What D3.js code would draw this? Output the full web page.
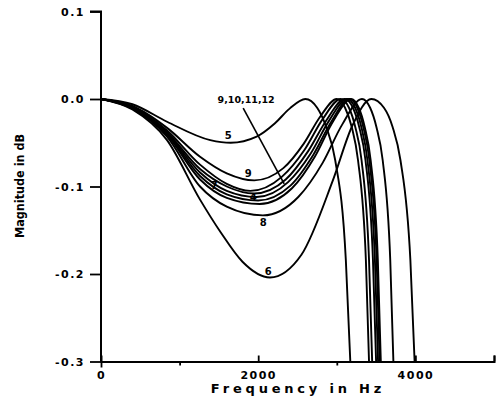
<!DOCTYPE html>
<html>
<head>
<meta charset="utf-8">
<script src="https://cdn.jsdelivr.net/npm/d3@7"></script>
<style>
  body { margin: 0; background: #fff; }
  svg text { font-family: "DejaVu Sans", sans-serif; font-weight: bold; fill: #000; }
</style>
</head>
<body>
<svg width="502" height="397"></svg>
<script>
// curves: [frequency Hz, magnitude dB]
const curve4 = [[0,0],[400,-0.01],[840,-0.041],[1260,-0.092],[1600,-0.113],[2020,-0.12],[2430,-0.102],[2720,-0.066],[2950,-0.026],[3180,0],[3279,-0.01],[3355,-0.032],[3431,-0.07],[3522,-0.184],[3560,-0.3]];
const curve5 = [[0,0],[400,-0.006],[840,-0.026],[1390,-0.047],[1650,-0.05],[1980,-0.043],[2210,-0.028],[2400,-0.011],[2600,0],[2750,-0.01],[2865,-0.032],[2980,-0.07],[3115,-0.184],[3172,-0.3]];
const curve6 = [[0,0],[400,-0.012],[840,-0.047],[1260,-0.115],[1520,-0.152],[1800,-0.186],[2150,-0.204],[2550,-0.178],[2950,-0.093],[3200,-0.03],[3440,0],[3600,-0.01],[3710,-0.032],[3810,-0.07],[3936,-0.184],[3990,-0.3]];
const curve7 = [[0,0],[400,-0.009],[840,-0.036],[1260,-0.075],[1600,-0.097],[1900,-0.105],[2300,-0.089],[2590,-0.058],[2820,-0.023],[3050,0],[3155,-0.01],[3235,-0.032],[3315,-0.07],[3410,-0.184],[3450,-0.3]];
const curve8 = [[0,0],[400,-0.011],[840,-0.043],[1260,-0.1],[1600,-0.123],[2060,-0.133],[2510,-0.112],[2820,-0.073],[3070,-0.029],[3320,0],[3424,-0.01],[3504,-0.032],[3584,-0.07],[3680,-0.184],[3720,-0.3]];
const curve9 = [[0,0],[400,-0.008],[840,-0.033],[1260,-0.066],[1600,-0.085],[1950,-0.093],[2320,-0.079],[2580,-0.051],[2790,-0.02],[3000,0],[3105,-0.01],[3190,-0.032],[3270,-0.07],[3370,-0.184],[3410,-0.3]];
const curve10 = [[0,0],[400,-0.009],[840,-0.038],[1260,-0.08],[1600,-0.1],[1950,-0.108],[2350,-0.092],[2640,-0.059],[2870,-0.024],[3100,0],[3205,-0.01],[3285,-0.032],[3365,-0.07],[3460,-0.184],[3500,-0.3]];
const curve11 = [[0,0],[400,-0.01],[840,-0.039],[1260,-0.084],[1600,-0.105],[1980,-0.112],[2380,-0.095],[2670,-0.062],[2900,-0.025],[3130,0],[3233,-0.01],[3312,-0.032],[3390,-0.07],[3485,-0.184],[3525,-0.3]];
const curve12 = [[0,0],[400,-0.01],[840,-0.04],[1260,-0.088],[1600,-0.109],[2000,-0.116],[2410,-0.099],[2700,-0.064],[2930,-0.026],[3160,0],[3260,-0.01],[3337,-0.032],[3414,-0.07],[3507,-0.184],[3545,-0.3]];

const curves = [curve4, curve5, curve6, curve7, curve8, curve9, curve10, curve11, curve12];

// curve labels at [Hz, dB]
const labelText = ['5', '9', '7', '4', '8', '6'];
const labelSpot = [[1618,-0.042],[1873,-0.085],[1440,-0.099],[1936,-0.112],[2064,-0.141],[2127,-0.197]];
const groupLabel = '9,10,11,12';
const groupSpot = [1847, 0.0];
const leader = [[1809,-0.0103],[2331,-0.097]];

const yTicks = [-0.3, -0.2, -0.1, 0, 0.1];
const xMajor = [0, 2000, 4000];
const xMinor = [1000, 3000];

const svg = d3.select('svg');
const x = d3.scaleLinear().domain([0, 5000]).range([101, 494]);
const y = d3.scaleLinear().domain([-0.3, 0.1]).range([361.5, 11.5]);

const line = d3.line().x(d => x(d[0])).y(d => y(d[1])).curve(d3.curveMonotoneX);

svg.append('g').selectAll('path')
  .data(curves).enter().append('path')
  .attr('d', line)
  .attr('fill', 'none').attr('stroke', '#000').attr('stroke-width', 1.9);

// leader line for the grouped label
svg.append('path').attr('d', d3.line().x(d => x(d[0])).y(d => y(d[1]))(leader))
  .attr('stroke', '#000').attr('stroke-width', 1.6);

svg.append('g').selectAll('text')
  .data(labelText).enter().append('text')
  .attr('x', (d, i) => x(labelSpot[i][0])).attr('y', (d, i) => y(labelSpot[i][1]))
  .attr('text-anchor', 'middle').attr('dominant-baseline', 'central')
  .attr('font-size', 10)
  .text(d => d);

svg.append('text')
  .attr('x', x(groupSpot[0])).attr('y', y(groupSpot[1]))
  .attr('text-anchor', 'middle').attr('dominant-baseline', 'central')
  .attr('font-size', 9.5)
  .text(groupLabel);

// axes
const fmt = d => (d < 0 ? '-' : '') + Math.abs(d).toFixed(1);
const yAxis = svg.append('g').attr('transform', 'translate(101,0)')
  .call(d3.axisLeft(y).tickValues(yTicks).tickSize(11).tickPadding(5).tickFormat(fmt));

const xAxis = svg.append('g').attr('transform', 'translate(0,361.5)')
  .call(d3.axisBottom(x).tickValues(xMajor).tickSize(-6).tickPadding(16).tickFormat(d3.format('d')));
xAxis.select('.tick line').attr('y2', 6);

svg.append('g').attr('transform', 'translate(0,361.5)')
  .call(d3.axisBottom(x).tickValues(xMinor).tickSize(4).tickFormat(''))
  .select('.domain').remove();
svg.append('g').attr('transform', 'translate(0,361.5)')
  .call(d3.axisBottom(x).tickValues([5000]).tickSize(-6).tickFormat(''))
  .select('.domain').remove();

svg.selectAll('.domain').attr('stroke-width', 2);
svg.selectAll('.tick line').attr('stroke-width', 1.8);
svg.selectAll('.tick text').attr('font-size', 11).attr('letter-spacing', 1.5)
  .attr('font-family', '"DejaVu Sans", sans-serif').attr('font-weight', 'bold');
yAxis.selectAll('.domain').attr('d', 'M-11,11.5H0V361.5');
xAxis.selectAll('.tick text').attr('dy', '0.1em');

svg.append('text')
  .attr('x', 298).attr('y', 393)
  .attr('text-anchor', 'middle').attr('font-size', 13).attr('letter-spacing', 3.8)
  .text('Frequency in Hz');

svg.append('text')
  .attr('transform', 'translate(24,186) rotate(-90)')
  .attr('text-anchor', 'middle').attr('font-size', 12.5)
  .style('font-family', '"Liberation Sans Narrow", "DejaVu Sans Condensed", sans-serif')
  .style('font-weight', 'bold')
  .text('Magnitude in dB');
</script>
</body>
</html>
